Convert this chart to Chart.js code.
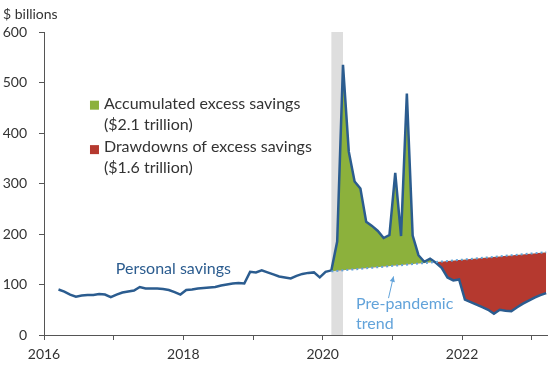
<!DOCTYPE html>
<html>
<head>
<meta charset="utf-8">
<script src="https://cdn.jsdelivr.net/npm/chart.js@4.4.1/dist/chart.umd.min.js"></script>
<style>
  html, body { margin: 0; padding: 0; background: #fff; }
  #wrap { width: 550px; height: 365px; }
</style>
</head>
<body>
<div id="wrap"><canvas id="savingsChart" width="550" height="365"></canvas></div>
<script>
// Personal savings ($ billions, monthly), first value = March 2016
const firstMonth = '2016-03';
const personalSavings = [
    90, 86, 80, 76, 78, 79, 79, 81, 80, 75,          // 2016 Mar-Dec
    80, 84, 86, 88, 95, 92, 92, 92, 91, 89, 85, 80,  // 2017
    89, 90, 92, 93, 94, 95, 98, 100, 102, 103, 102, 125, // 2018
    124, 128, 124, 120, 116, 114, 112, 117, 121, 123, 124, 114, // 2019
    125, 128, 185, 535, 363, 304, 290, 224, 216, 206, 192, 198, // 2020
    321, 196, 478, 197, 158, 145, 151, 143, 133, 114, 108, 110, // 2021
    70, 65, 60, 55, 50, 42, 50, 48, 47, 55, 62, 68,  // 2022
    74, 79, 83                                       // 2023 Jan-Mar
];

// pre-pandemic trend (straight line)
const trendMonths = ['2020-02', '2023-03'];
const trendValues = [126, 164];

// shaded bar (recession)
const recessionMonths = ['2020-02', '2020-04'];

const yearTicks = [2016, 2017, 2018, 2019, 2020, 2021, 2022, 2023];
const yearLabels = ['2016', '', '2018', '', '2020', '', '2022', ''];
const yTicks = [0, 100, 200, 300, 400, 500, 600];

const DARK_BLUE = '#2b5c8f';
const LIGHT_BLUE = '#62a3da';
const GREEN = '#8cb13c';
const RED = '#b5392f';
const TEXT = '#333333';
const AXIS = '#555555';
const FONT = 'Lato';

// 'YYYY-MM' -> decimal year, middle of the month
function monthToX(str) {
    const parts = str.split('-').map(Number);
    return parts[0] + (parts[1] - 0.5) / 12;
}

const firstX = monthToX(firstMonth);
const savingsPoints = personalSavings.map((v, i) => ({ x: firstX + i / 12, y: v }));
const trendPoints = trendMonths.map((m, i) => ({ x: monthToX(m), y: trendValues[i] }));

// grey bar behind the lines
const recessionBar = {
    id: 'recessionBar',
    beforeDatasetsDraw(chart) {
        const ctx = chart.ctx;
        const xs = chart.scales.x;
        const area = chart.chartArea;
        const x0 = xs.getPixelForValue(monthToX(recessionMonths[0]));
        const x1 = xs.getPixelForValue(monthToX(recessionMonths[1]));
        ctx.save();
        ctx.fillStyle = '#dedede';
        ctx.fillRect(x0, area.top, x1 - x0, area.bottom - area.top);
        ctx.restore();
    }
};

// texts, legend and arrow
const annotations = {
    id: 'annotations',
    afterDatasetsDraw(chart) {
        const ctx = chart.ctx;
        const xs = chart.scales.x;
        const ys = chart.scales.y;
        const px = v => xs.getPixelForValue(v);
        const py = v => ys.getPixelForValue(v);

        ctx.save();
        ctx.textBaseline = 'alphabetic';
        ctx.textAlign = 'left';

        ctx.fillStyle = TEXT;
        ctx.font = '14px ' + FONT;
        ctx.fillText('$ billions', 3, 19);

        // legend
        ctx.fillStyle = GREEN;
        ctx.fillRect(px(2016.66), py(464), 9, 9);
        ctx.fillStyle = RED;
        ctx.fillRect(px(2016.66), py(376), 9, 9);

        ctx.fillStyle = TEXT;
        ctx.font = '16px ' + FONT;
        ctx.fillText('Accumulated excess savings', px(2016.86), py(447));
        ctx.fillText('($2.1 trillion)', px(2016.86), py(405));
        ctx.fillText('Drawdowns of excess savings', px(2016.86), py(362));
        ctx.fillText('($1.6 trillion)', px(2016.86), py(320));

        ctx.fillStyle = DARK_BLUE;
        ctx.fillText('Personal savings', px(2017.03), py(120));

        ctx.fillStyle = LIGHT_BLUE;
        ctx.fillText('Pre-pandemic', px(2020.48), py(52));
        ctx.fillText('trend', px(2020.48), py(11));

        // arrow to trend line
        const ax0 = px(2020.945), ay0 = py(73);
        const ax1 = px(2021.017), ay1 = py(116);
        ctx.strokeStyle = LIGHT_BLUE;
        ctx.lineWidth = 1;
        ctx.beginPath();
        ctx.moveTo(ax0, ay0);
        ctx.lineTo(ax1, ay1);
        ctx.stroke();
        const ang = Math.atan2(ay1 - ay0, ax1 - ax0);
        ctx.fillStyle = LIGHT_BLUE;
        ctx.beginPath();
        ctx.moveTo(ax1, ay1);
        ctx.lineTo(ax1 - 6 * Math.cos(ang - 0.45), ay1 - 6 * Math.sin(ang - 0.45));
        ctx.lineTo(ax1 - 6 * Math.cos(ang + 0.45), ay1 - 6 * Math.sin(ang + 0.45));
        ctx.closePath();
        ctx.fill();

        ctx.restore();
    }
};

const ctx = document.getElementById('savingsChart').getContext('2d');
const savingsChart = new Chart(ctx, {
    type: 'line',
    data: {
        datasets: [
            {
                label: 'Personal savings',
                data: savingsPoints,
                borderColor: DARK_BLUE,
                borderWidth: 2.5,
                pointRadius: 0,
                tension: 0,
                order: 2,
                fill: { target: 1, above: GREEN, below: RED }
            },
            {
                label: 'Pre-pandemic trend',
                data: trendPoints,
                borderColor: LIGHT_BLUE,
                borderWidth: 2,
                borderDash: [2, 3],
                pointRadius: 0,
                fill: false,
                order: 1
            }
        ]
    },
    options: {
        responsive: false,
        animation: false,
        layout: { padding: { top: 32, right: 3, left: 0, bottom: 0 } },
        plugins: {
            legend: { display: false },
            tooltip: { enabled: false }
        },
        scales: {
            x: {
                type: 'linear',
                min: 2016,
                max: 2023.22,
                afterBuildTicks: scale => { scale.ticks = yearTicks.map(v => ({ value: v })); },
                afterFit: scale => { scale.height = 30; },
                border: { display: true, color: AXIS, width: 1 },
                grid: { drawOnChartArea: false, drawTicks: true, tickLength: 5, color: AXIS },
                ticks: {
                    autoSkip: false,
                    maxRotation: 0,
                    padding: 6,
                    color: TEXT,
                    font: { family: FONT, size: 14 },
                    callback: (value) => {
                        const i = yearTicks.indexOf(value);
                        return i >= 0 ? yearLabels[i] : '';
                    }
                }
            },
            y: {
                min: 0,
                max: 600,
                afterBuildTicks: scale => { scale.ticks = yTicks.map(v => ({ value: v })); },
                afterFit: scale => { scale.width = 44; },
                border: { display: true, color: AXIS, width: 1 },
                grid: { drawOnChartArea: false, drawTicks: true, tickLength: 5, color: AXIS },
                ticks: {
                    padding: 12,
                    color: TEXT,
                    font: { family: FONT, size: 14 }
                }
            }
        }
    },
    plugins: [recessionBar, annotations]
});
</script>
</body>
</html>
